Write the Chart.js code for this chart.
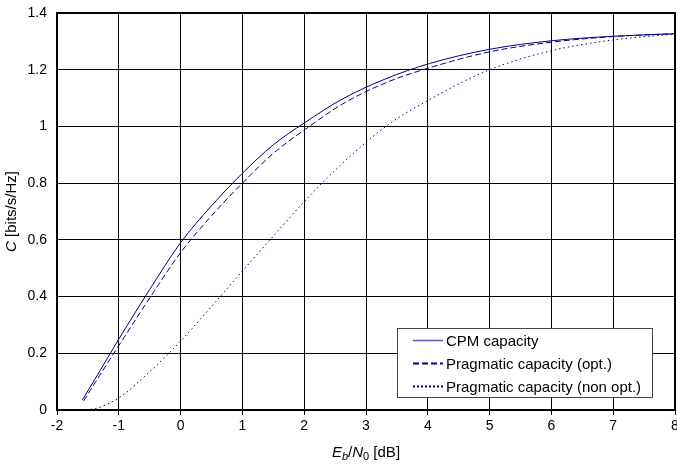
<!DOCTYPE html>
<html>
<head>
<meta charset="utf-8">
<script src="https://cdn.jsdelivr.net/npm/chart.js@4/dist/chart.umd.min.js"></script>
<style>
  html, body { margin: 0; padding: 0; background: #fff; }
  #wrap { width: 677px; height: 471px; position: relative; }
</style>
</head>
<body>
<div id="wrap"><canvas id="capChart"></canvas></div>
<script>
// Eb/N0 [dB] sample points
const ebn0 = [-1.59, -1.3, -1, -0.5, 0, 0.5, 1, 1.5, 2, 2.62, 3.32, 4.03, 5, 6, 7, 8];
const cpmCapacity = [0.035, 0.14, 0.25, 0.425, 0.59, 0.72, 0.835, 0.935, 1.012, 1.097, 1.168, 1.222, 1.272, 1.302, 1.318, 1.327];

const ebn0Opt = [-1.57, -1.3, -1, -0.5, 0, 0.5, 1, 1.5, 2, 2.62, 3.32, 4.03, 5, 6, 7, 8];
const pragOpt = [0.032, 0.125, 0.227, 0.395, 0.555, 0.685, 0.80, 0.905, 0.987, 1.079, 1.154, 1.207, 1.263, 1.297, 1.317, 1.327];

const ebn0NonOpt = [-1.6, -1.36, -1, -0.5, 0, 0.5, 1, 1.61, 2, 2.62, 3.32, 4.03, 5, 6, 7, 8];
const pragNonOpt = [0.0, 0.006, 0.043, 0.135, 0.243, 0.365, 0.49, 0.64, 0.735, 0.87, 1.0, 1.095, 1.2, 1.267, 1.305, 1.326];

const seriesNames = ['CPM capacity', 'Pragmatic capacity (opt.)', 'Pragmatic capacity (non opt.)'];

const xMin = -2, xMax = 8, xStep = 1;
const yMin = 0, yMax = 1.4, yStep = 0.2;

const FONT = '"Liberation Sans", Arial, sans-serif';
const NAVY = '#000080';

function toPoints(xs, ys) {
    return xs.map((x, i) => ({ x: x, y: ys[i] }));
}

// frame, legend box and the axis titles with italics / subscripts
const extrasPlugin = {
    id: 'extras',
    afterDatasetsDraw(chart) {
        const ctx = chart.ctx;
        const a = chart.chartArea;
        ctx.save();
        ctx.strokeStyle = '#000';
        ctx.lineWidth = 2;
        ctx.strokeRect(a.left, a.top, a.right - a.left, a.bottom - a.top);

        // legend
        const w = 255, h = 69;
        const right = a.right - 23, bottom = a.bottom - 13;
        const left = right - w, top = bottom - h;
        ctx.fillStyle = '#fff';
        ctx.fillRect(left, top, w, h);
        ctx.lineWidth = 1;
        ctx.strokeStyle = '#444';
        ctx.strokeRect(left + 0.5, top + 0.5, w, h);

        ctx.font = '15px ' + FONT;
        ctx.textBaseline = 'middle';
        chart.data.datasets.forEach((ds, i) => {
            const y = Math.round(top + 12 + i * 23) + 0.5;
            ctx.beginPath();
            ctx.setLineDash(ds.legendDash || []);
            ctx.strokeStyle = ds.legendColor || ds.borderColor;
            ctx.lineWidth = ds.legendWidth || 1;
            ctx.moveTo(left + 16, y);
            ctx.lineTo(left + 46, y);
            ctx.stroke();
            ctx.setLineDash([]);
            ctx.fillStyle = '#000';
            ctx.fillText(ds.label, left + 49, y + 1);
        });
        ctx.restore();
    },
    afterDraw(chart) {
        const ctx = chart.ctx;
        const a = chart.chartArea;
        ctx.save();
        ctx.fillStyle = '#000';
        ctx.textBaseline = 'alphabetic';

        // x title: Eb/N0 [dB]
        const parts = [
            { t: 'E', f: 'italic 15px ' + FONT, dy: 0 },
            { t: 'b', f: 'italic 11px ' + FONT, dy: 3 },
            { t: '/', f: '15px ' + FONT, dy: 0 },
            { t: 'N', f: 'italic 15px ' + FONT, dy: 0 },
            { t: '0', f: '11px ' + FONT, dy: 3 },
            { t: ' [dB]', f: '15px ' + FONT, dy: 0 }
        ];
        let total = 0;
        parts.forEach(p => { ctx.font = p.f; p.w = ctx.measureText(p.t).width; total += p.w; });
        let x = (a.left + a.right) / 2 - total / 2;
        const base = 457;
        parts.forEach(p => {
            ctx.font = p.f;
            ctx.fillText(p.t, x, base + p.dy);
            x += p.w;
        });

        // y title: C [bits/s/Hz]
        const yParts = [
            { t: 'C', f: 'italic 15px ' + FONT },
            { t: ' [bits/s/Hz]', f: '15px ' + FONT }
        ];
        total = 0;
        yParts.forEach(p => { ctx.font = p.f; p.w = ctx.measureText(p.t).width; total += p.w; });
        ctx.translate(16, (a.top + a.bottom) / 2);
        ctx.rotate(-Math.PI / 2);
        x = -total / 2;
        yParts.forEach(p => {
            ctx.font = p.f;
            ctx.fillText(p.t, x, 0);
            x += p.w;
        });
        ctx.restore();
    }
};

const lineBase = {
    borderColor: NAVY,
    borderWidth: 1,
    showLine: true,
    pointRadius: 0,
    cubicInterpolationMode: 'monotone'
};

new Chart(document.getElementById('capChart'), {
    type: 'scatter',
    data: {
        datasets: [
            Object.assign({}, lineBase, {
                label: seriesNames[0],
                data: toPoints(ebn0, cpmCapacity),
                legendColor: '#5a5ab8',
                legendWidth: 1.5
            }),
            Object.assign({}, lineBase, {
                label: seriesNames[1],
                data: toPoints(ebn0Opt, pragOpt),
                borderDash: [6, 3],
                legendDash: [6, 3],
                legendWidth: 2
            }),
            Object.assign({}, lineBase, {
                label: seriesNames[2],
                data: toPoints(ebn0NonOpt, pragNonOpt),
                borderDash: [1.5, 3],
                legendDash: [2, 2],
                legendWidth: 2
            })
        ]
    },
    options: {
        responsive: true,
        maintainAspectRatio: false,
        animation: false,
        layout: { padding: { top: 13, right: 2, left: 0, bottom: 0 } },
        plugins: {
            legend: { display: false },
            tooltip: { enabled: false }
        },
        scales: {
            x: {
                type: 'linear',
                min: xMin,
                max: xMax,
                afterFit: s => { s.height = 61; s.paddingLeft = 0; s.paddingRight = 0; },
                ticks: {
                    stepSize: xStep,
                    color: '#000',
                    font: { family: FONT, size: 14 },
                    padding: 3,
                    maxRotation: 0
                },
                grid: { color: '#000', lineWidth: 1, tickLength: 5, drawTicks: true },
                border: { color: '#000', width: 2 }
            },
            y: {
                min: yMin,
                max: yMax,
                afterFit: s => { s.width = 57; s.paddingTop = 0; s.paddingBottom = 0; },
                ticks: {
                    stepSize: yStep,
                    color: '#000',
                    font: { family: FONT, size: 14 },
                    padding: 10,
                    callback: v => String(Math.round(v * 10) / 10)
                },
                grid: { color: '#000', lineWidth: 1, drawTicks: false },
                border: { color: '#000', width: 2 }
            }
        }
    },
    plugins: [extrasPlugin]
});
</script>
</body>
</html>
